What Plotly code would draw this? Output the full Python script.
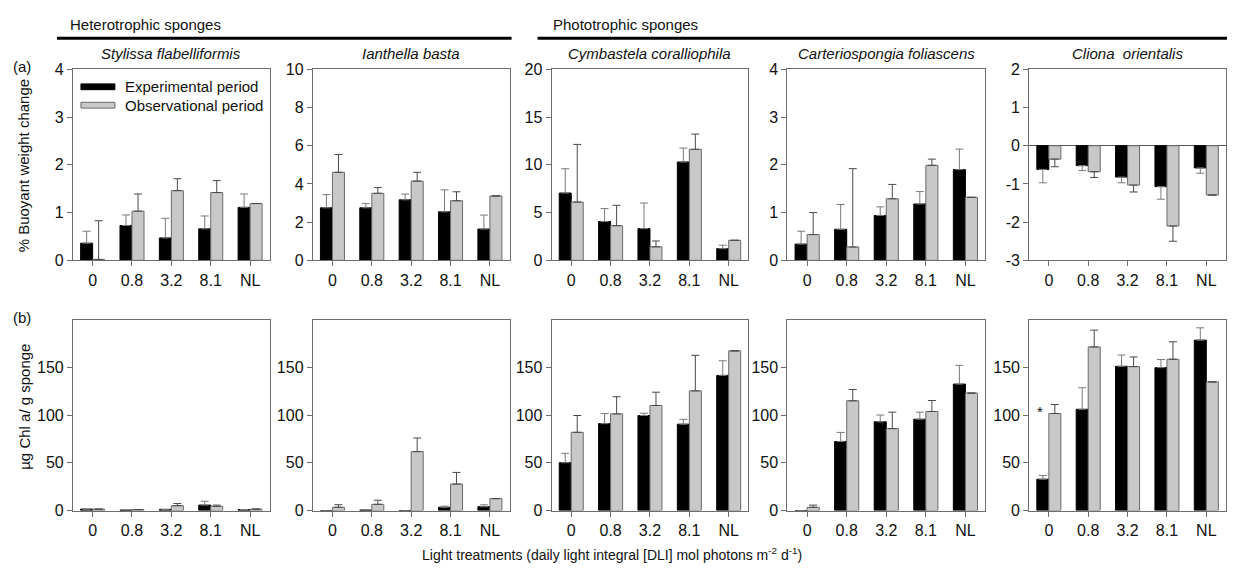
import plotly.graph_objects as go

# page is 1235x577; the browser adds an 8px body margin, so the figure is 16px smaller
PAGE_W, PAGE_H = 1235, 577
MARGIN = 8
W, H = PAGE_W - 2 * MARGIN, PAGE_H - 2 * MARGIN

categories = ["0", "0.8", "3.2", "8.1", "NL"]
species = ["Stylissa flabelliformis", "Ianthella basta", "Cymbastela coralliophila",
           "Carteriospongia foliascens", "Cliona\u00a0 orientalis"]

# (a) % buoyant weight change : experimental / observational, with SE
stylissa_bw_exp = [0.36, 0.73, 0.47, 0.66, 1.11]
stylissa_bw_exp_err = [0.25, 0.22, 0.41, 0.27, 0.28]
stylissa_bw_obs = [0.02, 1.03, 1.46, 1.42, 1.19]
stylissa_bw_obs_err = [0.81, 0.36, 0.25, 0.25, 0.0]

ianthella_bw_exp = [2.75, 2.75, 3.17, 2.54, 1.64]
ianthella_bw_exp_err = [0.69, 0.22, 0.30, 1.15, 0.73]
ianthella_bw_obs = [4.61, 3.51, 4.15, 3.12, 3.37]
ianthella_bw_obs_err = [0.93, 0.30, 0.46, 0.47, 0.0]

cymbastela_bw_exp = [7.05, 4.07, 3.32, 10.3, 1.22]
cymbastela_bw_exp_err = [2.54, 1.35, 2.68, 1.46, 0.37]
cymbastela_bw_obs = [6.1, 3.63, 1.42, 11.63, 2.1]
cymbastela_bw_obs_err = [6.04, 2.13, 0.61, 1.59, 0.0]

carterio_bw_exp = [0.34, 0.65, 0.94, 1.18, 1.90]
carterio_bw_exp_err = [0.27, 0.52, 0.18, 0.26, 0.43]
carterio_bw_obs = [0.54, 0.28, 1.29, 1.99, 1.32]
carterio_bw_obs_err = [0.46, 1.64, 0.30, 0.13, 0.0]

cliona_bw_exp = [-0.62, -0.52, -0.82, -1.07, -0.58]
cliona_bw_exp_err = [0.35, 0.13, 0.15, 0.33, 0.14]
cliona_bw_obs = [-0.35, -0.68, -1.03, -2.10, -1.29]
cliona_bw_obs_err = [0.20, 0.15, 0.18, 0.40, 0.0]

# (b) ug Chl a / g sponge
stylissa_chl_exp = [1.5, 0.5, 1.2, 5.7, 1.0]
stylissa_chl_exp_err = [0.0, 0.0, 0.0, 4.0, 0.0]
stylissa_chl_obs = [1.5, 1.0, 5.1, 4.4, 1.5]
stylissa_chl_obs_err = [0.0, 0.0, 2.3, 1.3, 0.0]

ianthella_chl_exp = [0.0, 0.5, 0.0, 3.4, 4.0]
ianthella_chl_exp_err = [0.0, 0.0, 0.0, 1.2, 2.0]
ianthella_chl_obs = [3.4, 6.5, 61.7, 27.7, 12.5]
ianthella_chl_obs_err = [2.7, 4.3, 14.2, 12.2, 0.0]

cymbastela_chl_exp = [50.1, 91.0, 99.5, 90.4, 141.5]
cymbastela_chl_exp_err = [9.8, 10.5, 2.4, 5.1, 15.3]
cymbastela_chl_obs = [81.9, 101.2, 110.0, 125.3, 167.2]
cymbastela_chl_obs_err = [17.6, 18.0, 13.9, 37.2, 0.0]

carterio_chl_exp = [0.0, 72.3, 92.9, 95.6, 132.4]
carterio_chl_exp_err = [0.0, 9.5, 7.1, 7.4, 19.6]
carterio_chl_obs = [3.4, 114.9, 85.8, 103.7, 123.0]
carterio_chl_obs_err = [2.3, 11.8, 17.2, 11.5, 0.0]

cliona_chl_exp = [32.8, 106.0, 151.0, 149.6, 178.4]
cliona_chl_exp_err = [3.8, 22.6, 11.8, 8.5, 12.9]
cliona_chl_obs = [101.6, 171.3, 150.7, 158.4, 134.7]
cliona_chl_obs_err = [9.4, 17.6, 10.1, 18.3, 0.0]

top_ranges = [[0, 4], [0, 10], [0, 20], [0, 4], [-3, 2]]
top_dticks = [1, 2, 5, 1, 1]
bottom_range = [0, 200]
bottom_ticks = [0, 50, 100, 150]

top_data = [
    (stylissa_bw_exp, stylissa_bw_exp_err, stylissa_bw_obs, stylissa_bw_obs_err),
    (ianthella_bw_exp, ianthella_bw_exp_err, ianthella_bw_obs, ianthella_bw_obs_err),
    (cymbastela_bw_exp, cymbastela_bw_exp_err, cymbastela_bw_obs, cymbastela_bw_obs_err),
    (carterio_bw_exp, carterio_bw_exp_err, carterio_bw_obs, carterio_bw_obs_err),
    (cliona_bw_exp, cliona_bw_exp_err, cliona_bw_obs, cliona_bw_obs_err),
]
bottom_data = [
    (stylissa_chl_exp, stylissa_chl_exp_err, stylissa_chl_obs, stylissa_chl_obs_err),
    (ianthella_chl_exp, ianthella_chl_exp_err, ianthella_chl_obs, ianthella_chl_obs_err),
    (cymbastela_chl_exp, cymbastela_chl_exp_err, cymbastela_chl_obs, cymbastela_chl_obs_err),
    (carterio_chl_exp, carterio_chl_exp_err, carterio_chl_obs, carterio_chl_obs_err),
    (cliona_chl_exp, cliona_chl_exp_err, cliona_chl_obs, cliona_chl_obs_err),
]

FONT = "Liberation Sans, Arial, sans-serif"
FS = 15
TFS = 16
BLACK = "#000000"
GREY = "#c8c8c8"
AXIS = "#6e6e6e"
TXT = "#111111"


def px(x):
    return (x - MARGIN) / W


def py(y):
    return 1 - (y - MARGIN) / H


col_px = [(73, 270), (313, 510), (552, 749), (788, 986), (1030, 1227)]
row_px = [(63, 260), (321, 518)]

fig = go.Figure()
layout = {}


def err(errs, down=False):
    if down:
        return dict(type="data", symmetric=False, array=[0] * len(errs), arrayminus=errs,
                    thickness=1, width=4)
    return dict(type="data", symmetric=False, array=errs, arrayminus=[0] * len(errs),
                thickness=1, width=4)


for r, dataset in enumerate([top_data, bottom_data]):
    for c, (e, ee, o, oe) in enumerate(dataset):
        idx = r * 5 + c + 1
        xa = "x" if idx == 1 else f"x{idx}"
        ya = "y" if idx == 1 else f"y{idx}"
        down = (r == 0 and c == 4)
        eb1 = err(ee, down)
        eb1["color"] = "#7a7a7a"
        eb2 = err(oe, down)
        eb2["color"] = "#4a4a4a"
        fig.add_trace(go.Bar(x=categories, y=e, xaxis=xa, yaxis=ya,
                             marker=dict(color=BLACK, line=dict(color=BLACK, width=1)),
                             error_y=eb1, offsetgroup="exp", showlegend=False,
                             name="Experimental period"))
        fig.add_trace(go.Bar(x=categories, y=o, xaxis=xa, yaxis=ya,
                             marker=dict(color=GREY, line=dict(color="#6a6a6a", width=1)),
                             error_y=eb2, offsetgroup="obs", showlegend=False,
                             name="Observational period"))
        x0, x1 = col_px[c]
        y0, y1 = row_px[r]
        xkey = "xaxis" if idx == 1 else f"xaxis{idx}"
        ykey = "yaxis" if idx == 1 else f"yaxis{idx}"
        layout[xkey] = dict(domain=[px(x0), px(x1)], anchor=ya, type="category",
                            showline=True, linecolor=AXIS, linewidth=1, mirror=True,
                            ticks="outside", ticklen=5, tickcolor=AXIS, showgrid=False,
                            tickfont=dict(family=FONT, size=TFS, color=TXT),
                            zeroline=False)
        if r == 0:
            yr = top_ranges[c]
            tickvals = list(range(yr[0], yr[1] + 1, top_dticks[c]))
        else:
            yr = bottom_range
            tickvals = bottom_ticks
        ticktext = [str(v) for v in tickvals]
        layout[ykey] = dict(domain=[py(y1), py(y0)], anchor=xa, range=yr,
                            tickvals=tickvals, ticktext=ticktext,
                            showline=True, linecolor=AXIS, linewidth=1,
                            mirror=True, ticks="outside", ticklen=5, tickcolor=AXIS,
                            showgrid=False,
                            tickfont=dict(family=FONT, size=TFS, color=TXT),
                            zeroline=down, zerolinecolor="#555", zerolinewidth=1)

annotations = []
shapes = []


def note(text, x, y, xanchor="left", size=FS, angle=0):
    annotations.append(dict(text=text, x=px(x), y=py(y), xref="paper", yref="paper",
                            xanchor=xanchor, yanchor="middle", showarrow=False,
                            textangle=angle, borderpad=0,
                            font=dict(family=FONT, size=size, color=TXT)))


# group headings
note("Heterotrophic sponges", 69, 17)
note("Phototrophic sponges", 552, 17)
shapes.append(dict(type="line", xref="paper", yref="paper", x0=px(57), x1=px(512),
                   y0=py(31), y1=py(31), line=dict(color="#000", width=3)))
shapes.append(dict(type="line", xref="paper", yref="paper", x0=px(538), x1=px(1228),
                   y0=py(31), y1=py(31), line=dict(color="#000", width=3)))

# species titles
for c, name in enumerate(species):
    x0, x1 = col_px[c]
    note(f"<i>{name}</i>", (x0 + x1) / 2, 47, xanchor="center")

# panel letters
note("(a)", 12, 60)
note("(b)", 12, 319)

# y-axis titles
note("% Buoyant weight change", 23, 162, xanchor="center", angle=-90)
note("\u00b5g Chl a/ g sponge", 25, 411, xanchor="center", angle=-90)

# x-axis title
note("Light treatments (daily light integral [DLI] mol photons m<sup>-2</sup> d<sup>-1</sup>)",
     612, 563, xanchor="center", size=FS - 1)

# asterisk
annotations.append(dict(text="*", x="0", y=104, xref="x10", yref="y10", xshift=-9,
                        xanchor="center", yanchor="middle", showarrow=False,
                        font=dict(family=FONT, size=FS, color=TXT)))

# custom legend
shapes.append(dict(type="rect", xref="paper", yref="paper", x0=px(81), x1=px(115),
                   y0=py(84), y1=py(78), fillcolor=BLACK, line=dict(color=BLACK, width=1)))
shapes.append(dict(type="rect", xref="paper", yref="paper", x0=px(81), x1=px(115),
                   y0=py(103), y1=py(97), fillcolor=GREY, line=dict(color="#6a6a6a", width=1)))
note("Experimental period", 124, 81)
note("Observational period", 124, 100)

fig.update_layout(
    width=W, height=H, margin=dict(l=0, r=0, t=0, b=0),
    paper_bgcolor="white", plot_bgcolor="white",
    barmode="group", bargap=0.39, bargroupgap=0.0,
    showlegend=False, annotations=annotations, shapes=shapes,
    font=dict(family=FONT, size=FS, color=TXT),
    **layout,
)

fig.write_html("out.html", config={"displayModeBar": False})
